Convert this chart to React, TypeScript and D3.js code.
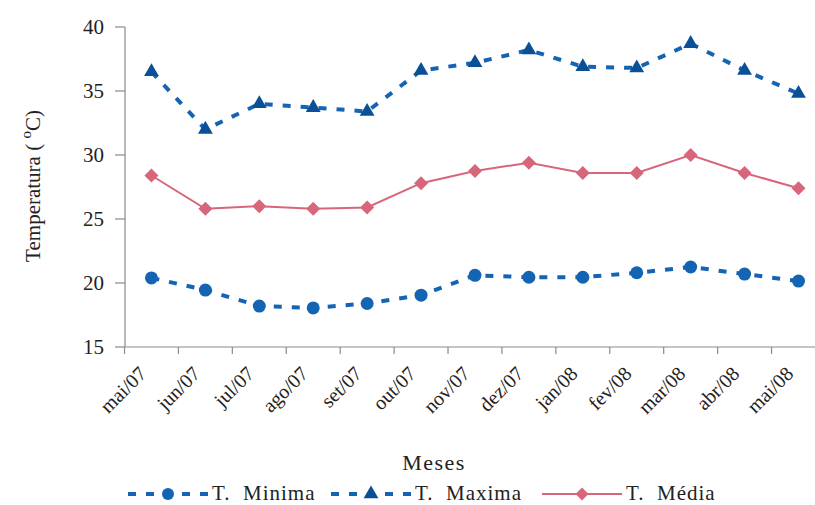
import React from "react";
import * as d3 from "d3";

const months = ["mai/07","jun/07","jul/07","ago/07","set/07","out/07","nov/07","dez/07","jan/08","fev/08","mar/08","abr/08","mai/08"];
const tMin = [20.4,19.45,18.2,18.05,18.4,19.05,20.6,20.45,20.45,20.8,21.25,20.7,20.15];
const tMax = [36.5,32.0,34.0,33.7,33.4,36.6,37.2,38.2,36.9,36.8,38.7,36.6,34.8];
const tMed = [28.4,25.8,26.0,25.8,25.9,27.8,28.75,29.4,28.6,28.6,30.0,28.6,27.4];
const yTicks = [15,20,25,30,35,40];

const W = 815, H = 505;
const FONT = "Liberation Serif, Times New Roman, Times, DejaVu Serif, serif";
const BLUE = "#1464b4";
const BLUE_DARK = "#0b5096";
const PINK = "#d8667a";

export default function App() {
  const x = d3.scaleBand<string>().domain(months).range([124.5, 124.5 + 13 * 53.92]).padding(0);
  const y = d3.scaleLinear().domain([15, 40]).range([347, 27]);
  const cx = (m: string) => (x(m) as number) + x.bandwidth() / 2;
  const line = d3.line<number>().x((_, i) => cx(months[i])).y(d => y(d));
  const tri = d3.symbol().type(d3.symbolTriangle).size(95)();
  const dia = (s: number) => `M0,${-s}L${s},0L0,${s}L${-s},0Z`;
  const dash = "8,10";
  const tf = { fontFamily: FONT };

  const legend = [
    { x0: 128, label: "T.  Minima", kind: "min" },
    { x0: 331, label: "T.  Maxima", kind: "max" },
    { x0: 542, label: "T.  Média", kind: "med" },
  ];

  return (
    <svg width={W} height={H} style={{ position: "absolute", left: 0, top: 0, background: "#fff", fontFamily: FONT }}>
      {/* axes */}
      <line x1={125} x2={125} y1={27} y2={347} stroke="#8a8a8a" strokeWidth={1.2} />
      <line x1={125} x2={W} y1={347} y2={347} stroke="#8a8a8a" strokeWidth={1.2} />
      {yTicks.map(t => (
        <g key={t}>
          <line x1={115} x2={125} y1={y(t)} y2={y(t)} stroke="#8a8a8a" strokeWidth={1.2} />
          <text x={104} y={y(t)} dy="0.35em" textAnchor="end" fontSize={21} fill="#222" style={tf}>{t}</text>
        </g>
      ))}
      {months.map(m => (
        <line key={m} x1={x(m) as number} x2={x(m) as number} y1={347} y2={354} stroke="#8a8a8a" strokeWidth={1.2} />
      ))}
      {months.map(m => (
        <text key={"l" + m} transform={`translate(${cx(m) - 4},375) rotate(-45)`} textAnchor="end" fontSize={20} fill="#222" style={tf}>{m}</text>
      ))}
      <text x={434} y={470} textAnchor="middle" fontSize={22} letterSpacing={1.5} fill="#222" style={tf}>Meses</text>
      <text transform="translate(40,186) rotate(-90)" textAnchor="middle" fontSize={21} fill="#222" style={tf}>
        Temperatura ( <tspan dy={-9} fontSize={15}>o</tspan><tspan dy={9}>C)</tspan>
      </text>

      {/* series */}
      <path d={line(tMax) || ""} fill="none" stroke={BLUE} strokeWidth={4} strokeDasharray={dash} />
      <path d={line(tMin) || ""} fill="none" stroke={BLUE} strokeWidth={4} strokeDasharray={dash} />
      <path d={line(tMed) || ""} fill="none" stroke={PINK} strokeWidth={2} />
      {tMax.map((v, i) => (
        <path key={"a" + i} d={tri || ""} transform={`translate(${cx(months[i])},${y(v)})`} fill={BLUE_DARK} />
      ))}
      {tMin.map((v, i) => (
        <circle key={"c" + i} cx={cx(months[i])} cy={y(v)} r={6.5} fill={BLUE} />
      ))}
      {tMed.map((v, i) => (
        <path key={"d" + i} d={dia(7)} transform={`translate(${cx(months[i])},${y(v)})`} fill={PINK} />
      ))}

      {/* legend */}
      {legend.map(l => (
        <g key={l.kind}>
          {l.kind === "med" ? (
            <line x1={l.x0} x2={l.x0 + 80} y1={494} y2={494} stroke={PINK} strokeWidth={2} />
          ) : (
            <line x1={l.x0} x2={l.x0 + 80} y1={494} y2={494} stroke={BLUE} strokeWidth={4} strokeDasharray={dash} />
          )}
          {l.kind === "min" && <circle cx={l.x0 + 40} cy={494} r={6} fill={BLUE} />}
          {l.kind === "max" && <path d={tri || ""} transform={`translate(${l.x0 + 40},${494})`} fill={BLUE_DARK} />}
          {l.kind === "med" && <path d={dia(6.5)} transform={`translate(${l.x0 + 40},494)`} fill={PINK} />}
          <text x={l.x0 + 84} y={500} fontSize={21} letterSpacing={1} fill="#222" style={{ ...tf, whiteSpace: "pre" }}>{l.label}</text>
        </g>
      ))}
    </svg>
  );
}
